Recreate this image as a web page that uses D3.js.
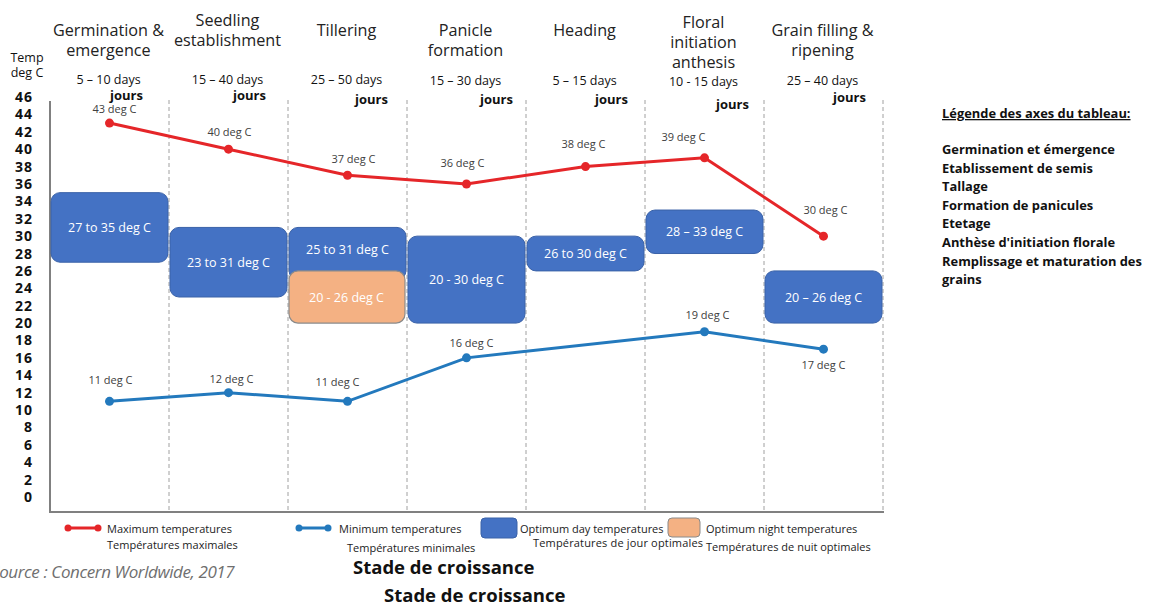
<!DOCTYPE html>
<html>
<head>
<meta charset="utf-8">
<script src="https://cdn.jsdelivr.net/npm/d3@7"></script>
<style>
  html, body { margin: 0; padding: 0; background: #fff; }
  svg { display: block; }
</style>
</head>
<body>
<svg id="chart" width="1159" height="606"></svg>
<script>
// Rice growth stages
const stages = ["germ", "seed", "till", "pan", "head", "flor", "grain"];
const stageTitles = [
  ["Germination &", "emergence"],
  ["Seedling", "establishment"],
  ["Tillering"],
  ["Panicle", "formation"],
  ["Heading"],
  ["Floral", "initiation", "anthesis"],
  ["Grain filling &", "ripening"]
];
const stageDays = ["5 – 10 days", "15 – 40 days", "25 – 50 days", "15 – 30 days", "5 – 15 days", "10 - 15 days", "25 – 40 days"];

// Temperatures (deg C)
const maxTemps = [43, 40, 37, 36, 38, 39, 30];
const minTemps = [11, 12, 11, 16, null, 19, 17];
const dayLow  = [27, 23, 25, 20, 26, 28, 20];
const dayHigh = [35, 31, 31, 30, 30, 33, 26];
const dayLabels = ["27 to 35 deg C", "23 to 31 deg C", "25 to 31 deg C", "20 - 30 deg C", "26 to 30 deg C", "28 – 33 deg C", "20 – 26 deg C"];
const nightLow  = [null, null, 20, null, null, null, null];
const nightHigh = [null, null, 26, null, null, null, null];
const nightLabels = [null, null, "20 - 26 deg C", null, null, null, null];

const yTicks = d3.range(0, 47, 2);

// French glossary on the right
const glossaryTitle = "Légende des axes du tableau:";
const glossary = ["Germination et émergence", "Etablissement de semis", "Tallage", "Formation de panicules", "Etetage", "Anthèse d'initiation florale", "Remplissage et maturation des", "grains"];

const RED = "#e52629", BLUE = "#2379bd", BOX = "#4472c4", BOXSTROKE = "#3a62a8", ORANGE = "#f4b183";
const FONT = "'Open Sans', 'Noto Sans', sans-serif";

const svg = d3.select("#chart").style("font-family", FONT);

const x = d3.scaleBand().domain(stages).range([50, 883]).padding(0);
const y = d3.scaleLinear().domain([0, 46]).range([497, 97]);
const cx = i => x(stages[i]) + x.bandwidth() / 2;
const plotBottom = 512;
const plotRight = x.range()[1];

// dashed stage separators (between stages and at the right edge)
const sepX = stages.slice(1).map(s => x(s)).concat([plotRight]);
svg.append("g").selectAll("line")
  .data(sepX)
  .join("line")
  .attr("x1", d => d).attr("x2", d => d)
  .attr("y1", 100).attr("y2", plotBottom)
  .attr("stroke", "#a0a0a0").attr("stroke-width", 1).attr("stroke-dasharray", "4,3");

// axis frame
svg.append("line").attr("x1", 50).attr("x2", 50).attr("y1", 101).attr("y2", plotBottom + 1)
  .attr("stroke", "#808080").attr("stroke-width", 2);
svg.append("line").attr("x1", 49).attr("x2", plotRight + 1).attr("y1", plotBottom).attr("y2", plotBottom)
  .attr("stroke", "#808080").attr("stroke-width", 2);

// y axis labels
const yAxis = svg.append("g").attr("transform", "translate(33,0)")
  .call(d3.axisLeft(y).tickValues(yTicks).tickSize(0).tickPadding(0));
yAxis.select(".domain").remove();
yAxis.selectAll("text").attr("font-family", FONT).attr("font-size", 14).attr("font-weight", 700)
  .attr("letter-spacing", 1).attr("fill", "#111");

svg.append("text").attr("x", 27).attr("y", 62).attr("text-anchor", "middle")
  .attr("font-size", 12.5).attr("fill", "#111").text("Temp");
svg.append("text").attr("x", 27).attr("y", 77).attr("text-anchor", "middle")
  .attr("font-size", 12.5).attr("fill", "#111").text("deg C");

// stage headers
const titleTop = [30, 20, 30, 30, 30, 22, 30];
stageTitles.forEach((lines, i) => {
  lines.forEach((t, j) => {
    svg.append("text").attr("x", cx(i) - 1).attr("y", titleTop[i] + 6 + j * 20)
      .attr("text-anchor", "middle").attr("font-size", 16.2).attr("fill", "#222").text(t);
  });
});
const daysY = [84, 84, 84, 85, 85, 86, 85];
const joursDx = [17, 21, 24, 30, 26, 28, 26];
const joursY = [100, 100, 104, 104, 104, 109, 102];
stageDays.forEach((t, i) => {
  svg.append("text").attr("x", cx(i) - 1).attr("y", daysY[i]).attr("text-anchor", "middle")
    .attr("font-size", 12.5).attr("fill", "#111").text(t);
  svg.append("text").attr("x", cx(i) + joursDx[i]).attr("y", joursY[i]).attr("text-anchor", "middle")
    .attr("font-size", 13).attr("font-weight", 700).attr("fill", "#111").text("jours");
});

// optimum day boxes
const boxes = svg.append("g");
stages.forEach((s, i) => {
  const top = y(dayHigh[i]), bot = y(dayLow[i]);
  boxes.append("rect").attr("x", x(s) + 1).attr("y", top).attr("width", x.bandwidth() - 2)
    .attr("height", bot - top).attr("rx", 9).attr("fill", BOX).attr("stroke", BOXSTROKE).attr("stroke-width", 1);
});
// optimum night boxes
stages.forEach((s, i) => {
  if (nightLow[i] == null) return;
  const top = y(nightHigh[i]), bot = y(nightLow[i]);
  boxes.append("rect").attr("x", x(s) + 1).attr("y", top).attr("width", x.bandwidth() - 3)
    .attr("height", bot - top).attr("rx", 9).attr("fill", ORANGE).attr("stroke", "#8a8a8a").attr("stroke-width", 1.2);
});
// box labels
stages.forEach((s, i) => {
  const mid = nightLow[i] == null ? (y(dayHigh[i]) + y(dayLow[i])) / 2 : (y(dayHigh[i]) + y(nightHigh[i])) / 2;
  boxes.append("text").attr("x", cx(i)).attr("y", mid + 4.5).attr("text-anchor", "middle")
    .attr("font-size", 12.5).attr("fill", "#fff").text(dayLabels[i]);
  if (nightLow[i] != null) {
    boxes.append("text").attr("x", cx(i) - 1).attr("y", (y(nightHigh[i]) + y(nightLow[i])) / 2 + 4.5)
      .attr("text-anchor", "middle").attr("font-size", 12.5).attr("fill", "#fff").text(nightLabels[i]);
  }
});

// temperature lines
const line = d3.line().defined(d => d.v != null).x(d => cx(d.i)).y(d => y(d.v));
const maxData = maxTemps.map((v, i) => ({ v, i }));
const minData = minTemps.map((v, i) => ({ v, i })).filter(d => d.v != null);

svg.append("path").datum(maxData).attr("d", line).attr("fill", "none").attr("stroke", RED).attr("stroke-width", 3);
svg.append("g").selectAll("circle").data(maxData).join("circle")
  .attr("cx", d => cx(d.i)).attr("cy", d => y(d.v)).attr("r", 4.5).attr("fill", RED);

svg.append("path").datum(minData).attr("d", line).attr("fill", "none").attr("stroke", BLUE).attr("stroke-width", 3);
svg.append("g").selectAll("circle").data(minData).join("circle")
  .attr("cx", d => cx(d.i)).attr("cy", d => y(d.v)).attr("r", 4.5).attr("fill", BLUE);

// value labels
const maxLabelDx = [5, 1, 6, -4, -2, -21, 2];
const maxLabelDy = [-10, -13, -12, -17, -19, -17, -22];
maxData.forEach(d => {
  svg.append("text").attr("x", cx(d.i) + maxLabelDx[d.i]).attr("y", y(d.v) + maxLabelDy[d.i])
    .attr("text-anchor", "middle").attr("font-size", 11).attr("fill", "#404040").text(d.v + " deg C");
});
const minLabelDx = [1, 3, -10, 5, 0, 3, 0];
const minLabelDy = [-17, -10, -15, -11, 0, -13, 20];
minData.forEach(d => {
  svg.append("text").attr("x", cx(d.i) + minLabelDx[d.i]).attr("y", y(d.v) + minLabelDy[d.i])
    .attr("text-anchor", "middle").attr("font-size", 11).attr("fill", "#404040").text(d.v + " deg C");
});

// bottom legend
const lg = svg.append("g").attr("font-size", 11).attr("fill", "#222");
function legendLine(x0, x1, yy, color) {
  lg.append("line").attr("x1", x0).attr("x2", x1).attr("y1", yy).attr("y2", yy).attr("stroke", color).attr("stroke-width", 3);
  lg.append("circle").attr("cx", x0).attr("cy", yy).attr("r", 3.5).attr("fill", color);
  lg.append("circle").attr("cx", x1).attr("cy", yy).attr("r", 3.5).attr("fill", color);
}
legendLine(68, 98, 528, RED);
lg.append("text").attr("x", 107).attr("y", 533).text("Maximum temperatures");
lg.append("text").attr("x", 107).attr("y", 549).text("Températures maximales");
legendLine(299, 328, 528, BLUE);
lg.append("text").attr("x", 339).attr("y", 533).text("Minimum temperatures");
lg.append("text").attr("x", 347).attr("y", 552).text("Températures minimales");
lg.append("rect").attr("x", 481).attr("y", 518).attr("width", 36).attr("height", 20).attr("rx", 4)
  .attr("fill", BOX).attr("stroke", BOXSTROKE);
lg.append("text").attr("x", 520).attr("y", 533).text("Optimum day temperatures");
lg.append("text").attr("x", 533).attr("y", 547).attr("textLength", 170).text("Températures de jour optimales");
lg.append("rect").attr("x", 668).attr("y", 518).attr("width", 32).attr("height", 19).attr("rx", 4)
  .attr("fill", ORANGE).attr("stroke", "#8a8a8a");
lg.append("text").attr("x", 706).attr("y", 533).text("Optimum night temperatures");
lg.append("text").attr("x", 706).attr("y", 551).text("Températures de nuit optimales");

// source and axis title
svg.append("text").attr("x", -9).attr("y", 578).attr("font-size", 17).attr("font-style", "italic")
  .attr("fill", "#6f6f6f").attr("letter-spacing", -0.4).text("Source : Concern Worldwide, 2017");
svg.append("text").attr("x", 353).attr("y", 574).attr("font-size", 18.5).attr("font-weight", 700)
  .attr("fill", "#111").text("Stade de croissance");
svg.append("text").attr("x", 384).attr("y", 602).attr("font-size", 18.5).attr("font-weight", 700)
  .attr("fill", "#111").text("Stade de croissance");

// glossary
const gl = svg.append("g").attr("font-size", 12.9).attr("font-weight", 700).attr("fill", "#111");
gl.append("text").attr("x", 942).attr("y", 118).attr("text-decoration", "underline").text(glossaryTitle);
gl.selectAll("text.item").data(glossary).join("text").attr("class", "item")
  .attr("x", 942).attr("y", (d, i) => 154 + i * 18.6).text(d => d);
</script>
</body>
</html>
